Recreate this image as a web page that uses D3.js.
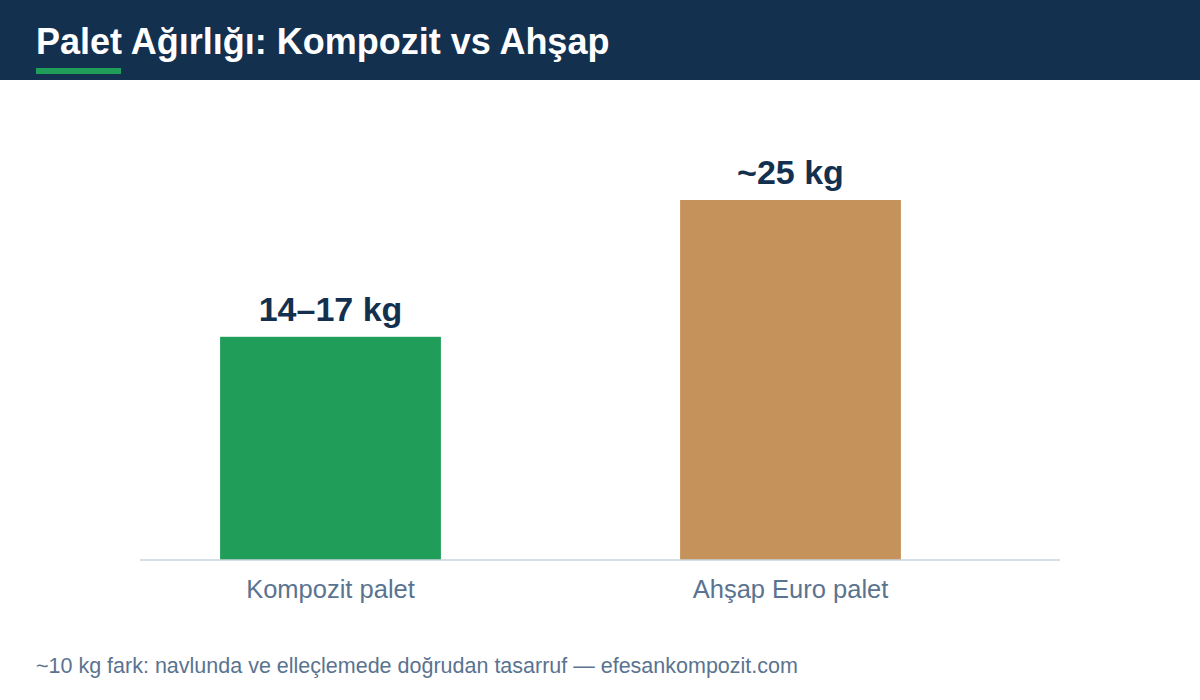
<!DOCTYPE html>
<html><head><meta charset="utf-8">
<script src="https://cdn.jsdelivr.net/npm/d3@7"></script>
<style>body{margin:0;background:#fff}</style>
</head><body>
<svg width="1200" height="700"></svg>
<script>
const categories = ['Kompozit palet', 'Ahşap Euro palet'];
const values = [15.5, 25];
const valueLabels = ['14–17 kg', '~25 kg'];
const colors = ['#209d58', '#c4925a'];

const svg = d3.select('svg');
const font = 'Liberation Sans, Arial, sans-serif';

// header
svg.append('rect').attr('width', 1200).attr('height', 80).attr('fill', '#14304f');
svg.append('text').attr('x', 36).attr('y', 54)
  .attr('font-family', font).attr('font-weight', 'bold').attr('font-size', 36)
  .attr('fill', '#fff').text('Palet Ağırlığı: Kompozit vs Ahşap');
svg.append('rect').attr('x', 36).attr('y', 68).attr('width', 85).attr('height', 6).attr('fill', '#209d58');

const x = d3.scaleBand().domain(categories).range([100.5, 1020.5]).paddingInner(0.52).paddingOuter(0.26);
const y = d3.scaleLinear().domain([0, 25]).range([560, 200]);

svg.selectAll('.bar').data(categories).join('rect')
  .attr('x', d => x(d)).attr('width', x.bandwidth())
  .attr('y', (d, i) => y(values[i])).attr('height', (d, i) => y(0) - y(values[i]))
  .attr('fill', (d, i) => colors[i]);

svg.selectAll('.val').data(categories).join('text')
  .attr('x', d => x(d) + x.bandwidth() / 2).attr('y', (d, i) => y(values[i]) - 16)
  .attr('text-anchor', 'middle').attr('font-family', font).attr('font-weight', 'bold')
  .attr('font-size', 34).attr('fill', '#14304f').text((d, i) => valueLabels[i]);

const axis = svg.append('g').attr('transform', `translate(0,${y(0)})`)
  .call(d3.axisBottom(x).tickSize(0).tickPadding(20));
axis.select('.domain').remove();
svg.append('line').attr('x1', 140).attr('x2', 1060).attr('y1', y(0)).attr('y2', y(0))
  .attr('stroke', '#c8d3de').attr('stroke-width', 1.5);
axis.selectAll('text').attr('font-family', font).attr('font-size', 25.5).attr('fill', '#5a7390');

svg.append('text').attr('x', 36).attr('y', 673)
  .attr('font-family', font).attr('font-size', 21.5).attr('fill', '#5a7390')
  .text('~10 kg fark: navlunda ve elleçlemede doğrudan tasarruf — efesankompozit.com');
</script>
</body></html>
